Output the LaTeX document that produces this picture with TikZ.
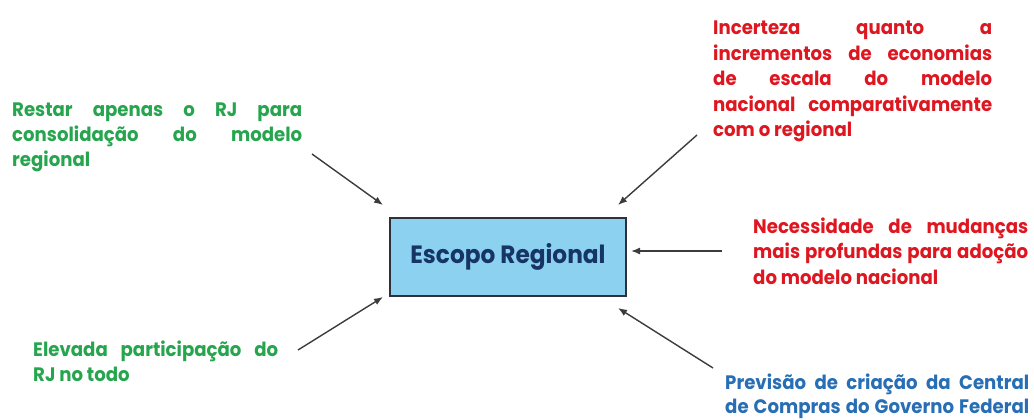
\documentclass[tikz,border=0pt]{standalone}
\usepackage{fontspec}
\setmainfont{Poppins}[FakeStretch=0.93]
\usetikzlibrary{arrows.meta}

\definecolor{leafgreen}{RGB}{38,165,78}
\definecolor{alertred}{RGB}{222,22,32}
\definecolor{steelblue}{RGB}{40,110,180}
\definecolor{navytext}{RGB}{22,52,100}
\definecolor{boxblue}{RGB}{140,210,240}
\definecolor{edgegray}{RGB}{45,50,58}
\definecolor{arrowgray}{RGB}{60,60,60}

% one fully justified line of a given width
\newcommand\spreadline[2]{\makebox[#1][s]{#2}}

\begin{document}
\begin{tikzpicture}[x=1pt,y=-1pt,
  note/.style={anchor=base west,inner sep=0pt,font=\fontsize{19.5}{25.5}\selectfont\bfseries},
  central/.style={draw=edgegray,line width=1.3pt,fill=boxblue,
    minimum width=236pt,minimum height=78pt,inner sep=0pt,
    text=navytext,font=\fontsize{25}{28}\selectfont\bfseries},
  influence/.style={draw=arrowgray,line width=1.4pt,
    -{Latex[length=9pt,width=7pt]}}]
\useasboundingbox (0,0) rectangle (1034,420);

% central box
\node[central] (scope) at (508,257) {Escopo Regional};

% surrounding statements
\node[note,text=leafgreen] (restar) at (12,116) {\parbox[t]{290pt}{%
  \spreadline{290pt}{Restar apenas o RJ para}\\
  \spreadline{290pt}{consolidação do modelo}\\
  regional}};

\node[note,text=alertred] (incerteza) at (713,35) {\parbox[t]{279pt}{%
  \spreadline{279pt}{Incerteza quanto a}\\
  \spreadline{279pt}{incrementos de economias}\\
  \spreadline{279pt}{de escala do modelo}\\
  \spreadline{279pt}{nacional comparativamente}\\
  com o regional}};

\node[note,text=alertred] (mudancas) at (753,233) {\parbox[t]{275pt}{%
  \spreadline{275pt}{Necessidade de mudanças}\\
  \spreadline{275pt}{mais profundas para adoção}\\
  do modelo nacional}};

\node[note,text=leafgreen] (participacao) at (33,356) {\parbox[t]{245pt}{%
  \spreadline{245pt}{Elevada participação do}\\
  RJ no todo}};

\node[note,text=steelblue] (central) at (725,389) {\parbox[t]{304pt}{\baselineskip=24pt
  \spreadline{304pt}{Previsão de criação da Central}\\
  \spreadline{304pt}{de Compras do Governo Federal}}};

% arrow end points
\coordinate (a1s) at (312,154);  \coordinate (a1e) at (383,205);
\coordinate (a2s) at (697,135);  \coordinate (a2e) at (618,205);
\coordinate (a3s) at (722,251);  \coordinate (a3e) at (631,251);
\coordinate (a4s) at (298,350);  \coordinate (a4e) at (383,297);
\coordinate (a5s) at (713,368);  \coordinate (a5e) at (618,308);

\draw[influence] (a1s) -- (a1e);
\draw[influence] (a2s) -- (a2e);
\draw[influence] (a3s) -- (a3e);
\draw[influence] (a4s) -- (a4e);
\draw[influence] (a5s) -- (a5e);
\end{tikzpicture}
\end{document}
